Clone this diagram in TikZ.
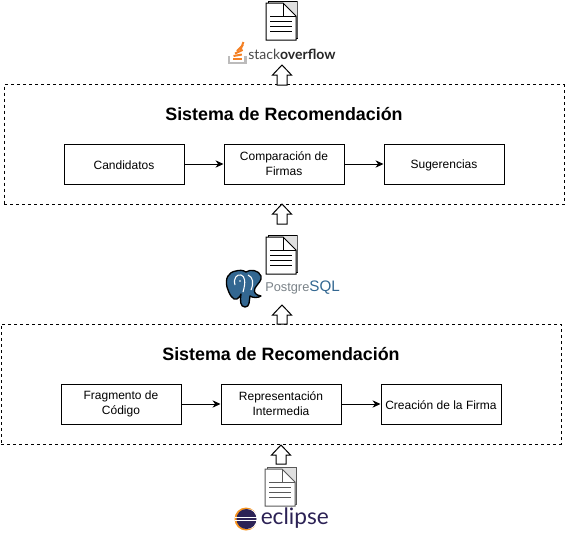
\documentclass[tikz,border=0pt]{standalone}
\usepackage{fontspec}
\setmainfont{Liberation Sans}
\newfontfamily\logofont{Lato}
\usetikzlibrary{arrows.meta,calc}
\definecolor{sogrey}{HTML}{4A4A4A}
\definecolor{soorange}{HTML}{F48024}
\definecolor{sotray}{HTML}{BCBBBB}
\definecolor{pgblue}{HTML}{336791}
\definecolor{pggrey}{HTML}{7A8288}
\definecolor{ecnavy}{HTML}{2C2255}
\definecolor{ecorange}{HTML}{F7941E}
\tikzset{
  stepbox/.style={draw,fill=white,line width=0.75pt,minimum width=90pt,minimum height=30pt,inner sep=0pt,align=center,font=\fontsize{9}{11.25}\selectfont,execute at begin node={\rule{0pt}{8.8pt}}},
  sysbox/.style={draw,line width=0.75pt,dash pattern=on 2.25pt off 2.25pt,minimum height=90pt,inner sep=0pt},
  systitle/.style={font=\fontsize{13.4}{15}\selectfont\bfseries,inner sep=0pt},
  flow/.style={draw,line width=0.75pt,-{Stealth[length=6pt,width=5.5pt]}},
  hollow/.style={draw=#1,fill=white,line width=0.75pt,to path={
    let \p1=(\tikztostart),\p2=(\tikztotarget) in
    (\x1-3.75pt,\y1) -- (\x1-3.75pt,\y2-7.5pt) -- (\x1-7.1pt,\y2-7.5pt) -- (\x1,\y2)
    -- (\x1+7.1pt,\y2-7.5pt) -- (\x1+3.75pt,\y2-7.5pt) -- (\x1+3.75pt,\y1) -- cycle}},
  hollow/.default=black,
  pics/docicon/.style={code={
    % origin = upper left corner of the sheet
    \draw[#1,fill=black!12,line width=0.75pt] (2,-2) rectangle (31,35);
    \fill[black!65] (31,-2) rectangle (32,35);
    \draw[#1,fill=white,line width=0.75pt] (0,0) -- (17,0) -- (30,13) -- (30,37) -- (0,37) -- cycle;
    \draw[#1,line width=0.75pt] (17,0) -- (17,13) -- (30,13);
    \draw[#1,line width=0.75pt] (4,13) -- (17,13);
    \foreach \ly in {18,23,28} \draw[#1,line width=0.75pt] (4,\ly) -- (26,\ly);
  }}
}
\begin{document}
\begin{tikzpicture}[x=0.75pt,y=-0.75pt]
  \useasboundingbox (0,0) rectangle (565,533);

  % upper block
  \node[sysbox,minimum width=420pt] (sysup) at (284,144.5) {};
  \node[systitle] (titleup) at (284,114.5) {Sistema de Recomendación};
  \node[stepbox] (cand) at (124,164) {Candidatos};
  \node[stepbox] (comp) at (284,164) {Comparación de\\Firmas};
  \node[stepbox] (sug) at (444,164) {Sugerencias};

  % lower block
  \node[sysbox,minimum width=420pt] (syslow) at (281,384) {};
  \node[systitle] (titlelow) at (281,354) {Sistema de Recomendación};
  \node[stepbox] (frag) at (121,404) {Fragmento de\\Código};
  \node[stepbox] (rep) at (281,404) {Representación\\Intermedia};
  \node[stepbox] (firma) at (441,404) {Creación de la Firma};

  \path[flow] (cand) -- (comp);
  \path[flow] (comp) -- (sug);
  \path[flow] (frag) -- (rep);
  \path[flow] (rep) -- (firma);

  % documents
  \pic at (266,3) {docicon=black};
  \pic at (266,237) {docicon=black};
  \pic at (265,469) {docicon=black!65};

  % stack overflow logo
  \node[inner sep=0pt,anchor=west,font=\fontsize{10.5}{14}\logofont] (so) at (248,54)
    {\textcolor{sogrey}{stack}\textcolor{black!85}{\bfseries overflow}};
  \draw[sotray,line width=1.6pt] (229,56) -- (229,63) -- (245.5,63) -- (245.5,56);
  \foreach \sx/\sy/\ang in {233/59/0,233.5/56/10,235/53.5/25,237/51/45,240.5/50/70}
    \draw[soorange,line width=1.5pt] (\sx,\sy) -- ++(-\ang:8.5);

  % postgres logo
  \node[inner sep=0pt,anchor=west,font=\fontsize{9.6}{13}\selectfont] (pg) at (265,288)
    {\textcolor{pggrey}{Postgre}{\fontsize{11.4}{13}\selectfont\textcolor{pgblue}{SQL}}};
  \draw[fill=pgblue,line width=1pt,line join=round] (236,271)
    .. controls (228,272) and (225,279) .. (227,287)
    .. controls (229,294) and (233,301) .. (237,299)
    .. controls (240,298) and (240,295) .. (241,294)
    .. controls (240,300) and (240,307) .. (245,307)
    .. controls (250,307) and (249,301) .. (250,296)
    .. controls (253,298) and (258,298) .. (261,296)
    .. controls (256,295) and (253,293) .. (255,288)
    .. controls (258,283) and (262,281) .. (261,276)
    .. controls (259,270) and (250,269) .. (246,272)
    .. controls (243,270) and (239,270) .. (236,271) -- cycle;
  \draw[white,line width=0.8pt] (235,285) .. controls (233,278) and (237,274) .. (241,275)
    .. controls (245,276) and (246,282) .. (243,292);
  \draw[white,line width=0.8pt] (248,275) .. controls (253,277) and (254,283) .. (251,290);
  \fill[white] (240,281) circle (0.9);

  % eclipse logo
  \node[inner sep=0pt,anchor=west,text=ecnavy,font=\fontsize{17}{20}\logofont] (ec) at (260.5,518)
    {eclipse};
  \fill[ecorange] (246,519) circle (11.5);
  \fill[white] (248,519) circle (10);
  \fill[ecnavy] (246.5,519) circle (10);
  \foreach \ly in {517.5,520.5} \draw[white,line width=0.9pt] (235,\ly) -- (258,\ly);

  % hollow arrows
  \coordinate (tipa) at (282,65);
  \coordinate (basea) at (282,85);
  \coordinate (tipb) at (282,204);
  \coordinate (baseb) at (282,224);
  \coordinate (tipc) at (282,305);
  \coordinate (basec) at (282,324);
  \coordinate (tipd) at (281,445);
  \coordinate (based) at (281,464);
  \path[hollow] (basea) to (tipa);
  \path[hollow] (baseb) to (tipb);
  \path[hollow] (basec) to (tipc);
  \path[hollow] (based) to (tipd);
\end{tikzpicture}
\end{document}
